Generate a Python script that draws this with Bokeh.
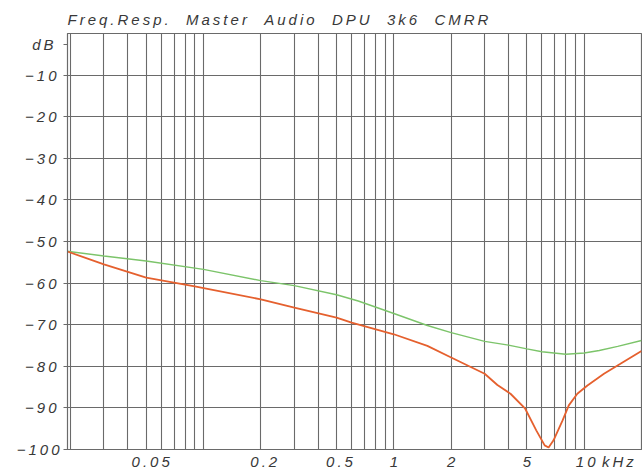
from bokeh.plotting import figure
from bokeh.models import FixedTicker, Range1d, InlineStyleSheet
from bokeh.embed import file_html
from bokeh.resources import INLINE

title_text = "Freq.Resp. \u00a0Master \u00a0Audio \u00a0DPU \u00a03k6 \u00a0CMRR"

# Frequency in kHz, level in dB
green_f = [0.019, 0.03, 0.05, 0.1, 0.2, 0.3, 0.5, 0.65, 1.0, 1.5, 2.0, 3.0,
           4.0, 5.0, 6.0, 8.0, 10.0, 12.0, 15.0, 20.0]
green_db = [-52.3, -53.5, -54.7, -56.7, -59.4, -60.6, -62.8, -64.3, -67.3, -70.2,
            -71.9, -74.0, -74.9, -75.8, -76.5, -77.1, -76.8, -76.2, -75.2, -73.8]

orange_f = [0.019, 0.03, 0.05, 0.09, 0.2, 0.3, 0.5, 0.6, 1.0, 1.5, 2.0, 3.0,
            3.5, 4.1, 4.9, 5.6, 6.2, 6.5, 6.9, 7.7, 8.3, 9.2, 10.4, 12.7, 15.5, 20.0]
orange_db = [-52.3, -55.5, -58.7, -60.8, -63.9, -65.9, -68.3, -69.5, -72.3, -75.1,
             -77.9, -81.8, -84.5, -86.6, -90.2, -95.4, -99.0, -99.5, -97.8, -93.0,
             -89.4, -86.6, -84.6, -81.8, -79.4, -76.3]

# Axis ticks (the unit names sit on their own ticks) and grid positions
x_ticks = [0.05, 0.2, 0.5, 1, 2, 5, 10, 14.5]
x_tick_labels = ["0.05", "0.2", "0.5", "1", "2", "5", "10", "kHz"]
x_grid = [0.02, 0.03, 0.04, 0.05, 0.06, 0.07, 0.08, 0.09, 0.1,
          0.2, 0.3, 0.4, 0.5, 0.6, 0.7, 0.8, 0.9, 1.0,
          2, 3, 4, 5, 6, 7, 8, 9, 10]
y_ticks = [-100, -90, -80, -70, -60, -50, -40, -30, -20, -10, -2.6]
y_tick_labels = ["\u2212100", "\u221290", "\u221280", "\u221270", "\u221260",
                 "\u221250", "\u221240", "\u221230", "\u221220", "\u221210", "dB"]
y_grid = [-90, -80, -70, -60, -50, -40, -30, -20, -10]

FONT = "Liberation Sans"
INK = "#383838"
GRID = "#6a6a6a"

p = figure(width=642, height=472, x_axis_type="log",
           x_range=Range1d(0.0193, 20), y_range=Range1d(-100, 0),
           output_backend="svg", toolbar_location=None,
           min_border_left=67, min_border_right=1,
           min_border_top=33, min_border_bottom=20,
           stylesheets=[InlineStyleSheet(css=":host { letter-spacing: 3px; }")])

p.background_fill_color = "white"
p.border_fill_color = "white"
p.outline_line_color = GRID
p.outline_line_width = 1.2

p.title.text = title_text
p.title.text_font = FONT
p.title.text_font_style = "italic"
p.title.text_font_size = "15px"
p.title.text_line_height = 0.9
p.title.text_color = INK
p.title.align = "left"
p.title.vertical_align = "bottom"
p.title.offset = 0
p.title.standoff = 12

# x axis (log, kHz)
xa = p.xaxis[0]
xa.ticker = FixedTicker(ticks=x_ticks)
xa.major_label_overrides = dict(zip(x_ticks, x_tick_labels))
xa.major_tick_out = 0
xa.major_tick_in = 0
xa.minor_tick_out = 0
xa.minor_tick_in = 0
xa.axis_line_color = GRID
xa.major_label_standoff = 3
xa.major_label_text_font = FONT
xa.major_label_text_font_style = "italic"
xa.major_label_text_font_size = "15px"
xa.major_label_text_color = INK

# y axis (dB)
ya = p.yaxis[0]
ya.ticker = FixedTicker(ticks=y_ticks)
ya.major_label_overrides = dict(zip(y_ticks, y_tick_labels))
ya.major_tick_out = 4
ya.major_tick_in = 0
ya.major_tick_line_color = GRID
ya.minor_tick_out = 0
ya.minor_tick_in = 0
ya.axis_line_color = GRID
ya.major_label_standoff = 13
ya.major_label_text_font = FONT
ya.major_label_text_font_style = "italic"
ya.major_label_text_font_size = "15px"
ya.major_label_text_color = INK

p.xgrid.ticker = FixedTicker(ticks=x_grid)
p.xgrid.grid_line_color = GRID
p.xgrid.grid_line_width = 1.1
p.ygrid.ticker = FixedTicker(ticks=y_grid)
p.ygrid.grid_line_color = GRID
p.ygrid.grid_line_width = 1.1

p.line(green_f, green_db, line_color="#7cc46a", line_width=1.4)
p.line(orange_f, orange_db, line_color="#e5602e", line_width=1.8)

open("out.html", "w").write(file_html(p, INLINE))
